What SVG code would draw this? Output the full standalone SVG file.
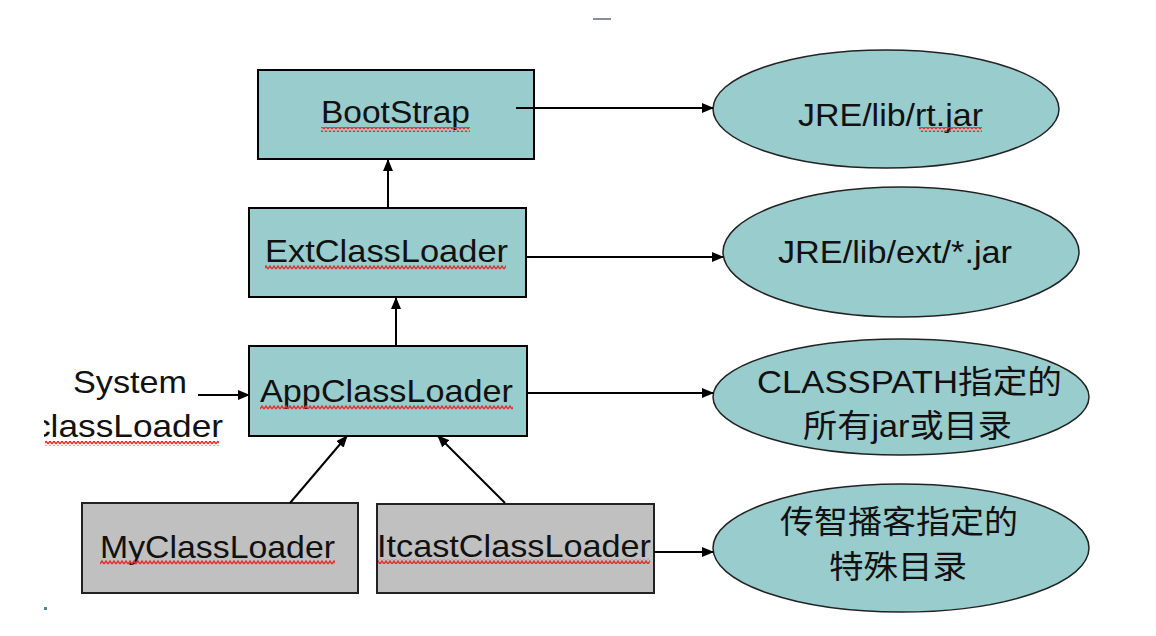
<svg xmlns="http://www.w3.org/2000/svg" width="1156" height="636" viewBox="0 0 1156 636">
<style>
.box{fill:#99CCCC;stroke:#000;stroke-width:2}
.gbox{fill:#C0C0C0;stroke:#222;stroke-width:2}
.ell{fill:#99CCCC;stroke:#222;stroke-width:1.5}
.t{font-family:"Liberation Sans","Noto Sans CJK SC",Arial,sans-serif;font-size:32px;fill:#111}
.c{stroke:#000;stroke-width:2;fill:none;marker-end:url(#ah)}
.wavy{fill:url(#wv)}
</style>
<defs>
<marker id="ah" markerUnits="userSpaceOnUse" markerWidth="12" markerHeight="10" refX="11" refY="5" orient="auto">
<path d="M0,0 L12,5 L0,10 Z" fill="#000"/>
</marker>
<pattern id="wv" patternUnits="userSpaceOnUse" width="4" height="5" x="0" y="0">
<path d="M0,4 L2,1 L4,4" stroke="#E53030" stroke-width="1.4" fill="none"/>
</pattern>
<clipPath id="clipL"><rect x="44" y="400" width="200" height="60"/></clipPath>
</defs>
<rect width="1156" height="636" fill="#fff"/>
<rect x="593" y="18" width="18" height="2" fill="#8a8aa0"/>
<rect x="44" y="607" width="3" height="3" fill="#4a8a8a"/>

<g id="bootstrap">
<rect class="box" x="258" y="70" width="276" height="89"/>
<text class="t" x="321" y="123" textLength="149" lengthAdjust="spacingAndGlyphs">BootStrap</text>
<rect class="wavy" x="321" y="127" width="149" height="5"/>
</g>
<g id="ext">
<rect class="box" x="249" y="208" width="277" height="89"/>
<text class="t" x="265" y="262" textLength="243" lengthAdjust="spacingAndGlyphs">ExtClassLoader</text>
<rect class="wavy" x="265" y="265" width="241" height="5"/>
</g>
<g id="app">
<rect class="box" x="249" y="346" width="278" height="90"/>
<text class="t" x="260" y="402" textLength="253" lengthAdjust="spacingAndGlyphs">AppClassLoader</text>
<rect class="wavy" x="260" y="405" width="253" height="5"/>
</g>
<g id="system-label">
<text class="t" x="73" y="393" textLength="114" lengthAdjust="spacingAndGlyphs">System</text>
<g clip-path="url(#clipL)">
<text class="t" x="33" y="437" textLength="190" lengthAdjust="spacingAndGlyphs">classLoader</text>
<rect class="wavy" x="45" y="441" width="174" height="5"/>
</g>
</g>
<g id="my">
<rect class="gbox" x="82" y="503" width="276" height="90"/>
<text class="t" x="100" y="558" textLength="235" lengthAdjust="spacingAndGlyphs">MyClassLoader</text>
<rect class="wavy" x="100" y="560" width="235" height="5"/>
</g>
<g id="itcast">
<rect class="gbox" x="377" y="504" width="277" height="89"/>
<text class="t" x="377" y="557" textLength="274" lengthAdjust="spacingAndGlyphs">ItcastClassLoader</text>
<rect class="wavy" x="378" y="559" width="272" height="5"/>
</g>

<g id="rtjar">
<ellipse class="ell" cx="886" cy="109" rx="173" ry="59"/>
<text class="t" x="798" y="126" textLength="185" lengthAdjust="spacingAndGlyphs">JRE/lib/rt.jar</text>
<rect class="wavy" x="919" y="127" width="63" height="5"/>
</g>
<g id="extjar">
<ellipse class="ell" cx="901" cy="252" rx="178" ry="65"/>
<text class="t" x="778" y="263" textLength="234" lengthAdjust="spacingAndGlyphs">JRE/lib/ext/*.jar</text>
</g>
<g id="classpath">
<ellipse class="ell" cx="901" cy="397" rx="188" ry="58"/>
<text class="t" x="757" y="393" textLength="305" lengthAdjust="spacingAndGlyphs">CLASSPATH指定的</text>
<text class="t" x="803" y="437" textLength="209" lengthAdjust="spacingAndGlyphs">所有jar或目录</text>
</g>
<g id="special">
<ellipse class="ell" cx="901" cy="548" rx="188" ry="64"/>
<text class="t" x="780" y="533" textLength="238" lengthAdjust="spacingAndGlyphs">传智播客指定的</text>
<text class="t" x="829" y="578" textLength="138" lengthAdjust="spacingAndGlyphs">特殊目录</text>
</g>

<g id="connectors">
<line class="c" x1="516" y1="108" x2="713" y2="108"/>
<line class="c" x1="526" y1="257" x2="723" y2="257"/>
<line class="c" x1="527" y1="393" x2="713" y2="393"/>
<line class="c" x1="654" y1="552" x2="713" y2="552"/>
<line class="c" x1="388" y1="208" x2="388" y2="160"/>
<line class="c" x1="396" y1="346" x2="396" y2="298"/>
<line class="c" x1="198" y1="395" x2="249" y2="395"/>
<line class="c" x1="290" y1="503" x2="347" y2="436"/>
<line class="c" x1="505" y1="503" x2="438" y2="436"/>
</g>
</svg>
